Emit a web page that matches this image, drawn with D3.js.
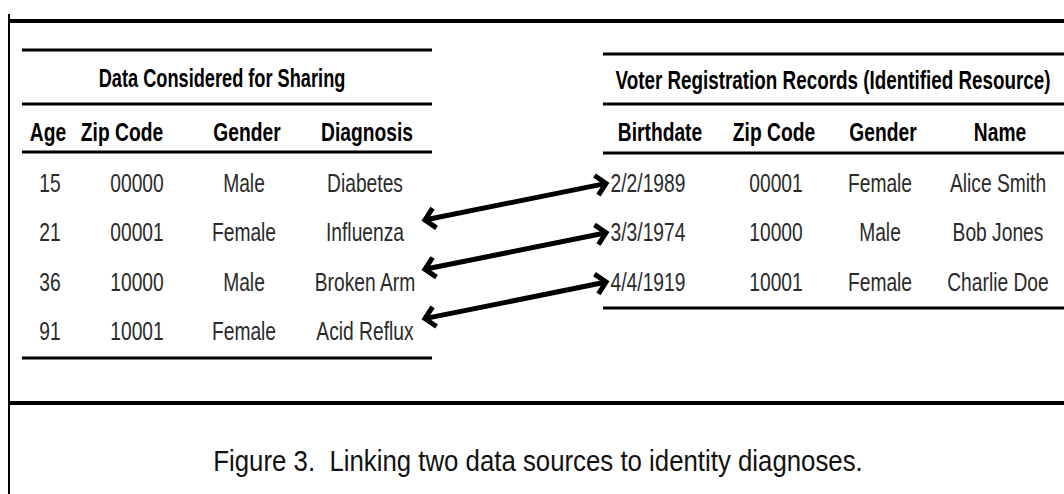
<!DOCTYPE html>
<html>
<head>
<meta charset="utf-8">
<script src="https://cdn.jsdelivr.net/npm/d3@7"></script>
<style>
  body { margin: 0; background: #fff; }
  text { font-family: "Liberation Sans", Arial, sans-serif; white-space: pre; }
</style>
</head>
<body>
<div id="fig"></div>
<script>
// left table: data considered for sharing
const leftTitle = "Data Considered for Sharing"
const leftCols = ["Age", "Zip Code", "Gender", "Diagnosis"]
const ages = ["15", "21", "36", "91"]
const leftZips = ["00000", "00001", "10000", "10001"]
const leftGenders = ["Male", "Female", "Male", "Female"]
const diagnoses = ["Diabetes", "Influenza", "Broken Arm", "Acid Reflux"]

// right table: voter registration
const rightTitle = "Voter Registration Records (Identified Resource)"
const rightCols = ["Birthdate", "Zip Code", "Gender", "Name"]
const birthdates = ["2/2/1989", "3/3/1974", "4/4/1919"]
const rightZips = ["00001", "10000", "10001"]
const rightGenders = ["Female", "Male", "Female"]
const names = ["Alice Smith", "Bob Jones", "Charlie Doe"]

// which diagnosis row links to which voter row
const links = [
  {from: "Influenza", to: "2/2/1989"},
  {from: "Broken Arm", to: "3/3/1974"},
  {from: "Acid Reflux", to: "4/4/1919"}
]

const caption = "Figure 3.  Linking two data sources to identity diagnoses."

const width = 1064, height = 494
const squeeze = 0.74   // the figure's text is tall and narrow

const svg = d3.select("#fig")
  .append("svg")
    .attr("width", width)
    .attr("height", height)

// row positions
const yRow = d3.scalePoint()
    .domain([0, 1, 2, 3])
    .range([183, 331])

// column centres
const xLeftHead = d3.scaleOrdinal().domain(leftCols).range([48, 122, 247, 367])
const xLeftVal = d3.scaleOrdinal().domain(leftCols).range([50, 137, 244, 365])
const xRightHead = d3.scaleOrdinal().domain(rightCols).range([660, 774, 883, 1000])
const xRightVal = d3.scaleOrdinal().domain(rightCols).range([648, 776, 880, 998])

const leftRows = ages.map((a, i) => [a, leftZips[i], leftGenders[i], diagnoses[i]])
const rightRows = birthdates.map((b, i) => [b, rightZips[i], rightGenders[i], names[i]])

// frame
const frame = svg.append("g").attr("stroke", "#000")
frame.append("line").attr("x1", 9).attr("x2", 9).attr("y1", 14).attr("y2", height).attr("stroke-width", 2)
frame.append("line").attr("x1", 8).attr("x2", width).attr("y1", 21).attr("y2", 21).attr("stroke-width", 4)
frame.append("line").attr("x1", 8).attr("x2", width).attr("y1", 403).attr("y2", 403).attr("stroke-width", 4)

// narrow text placed at x,y
const label = (sel, x, y, sx = squeeze) => sel
    .attr("transform", `translate(${x},${y}) scale(${sx},1)`)
    .attr("text-anchor", "middle")
    .attr("dominant-baseline", "central")
    .attr("font-size", 26)

function drawTable(opts) {
  const g = svg.append("g")
  g.selectAll("line")
    .data(opts.rules)
    .join("line")
      .attr("x1", opts.x0).attr("x2", opts.x1)
      .attr("y1", d => d).attr("y2", d => d)
      .attr("stroke", "#000")
      .attr("stroke-width", 3)

  g.append("text")
      .call(label, opts.titleX, opts.titleY, opts.titleSqueeze)
      .attr("font-weight", "bold")
      .text(opts.title)

  g.append("g")
    .selectAll("text")
    .data(opts.cols)
    .join("text")
      .each(function(d) { d3.select(this).call(label, opts.xHead(d), 132) })
      .attr("font-weight", "bold")
      .text(d => d)

  opts.rows.forEach((row, i) => {
    g.append("g")
      .selectAll("text")
      .data(row)
      .join("text")
        .each(function(d, j) { d3.select(this).call(label, opts.xVal(opts.cols[j]), yRow(i)) })
        .attr("fill", "#2a2a2a")
        .text(d => d)
  })
}

drawTable({
  x0: 22, x1: 432, rules: [50, 104, 152, 358],
  title: leftTitle, titleX: 222, titleY: 78, titleSqueeze: 0.7,
  cols: leftCols, xHead: xLeftHead, xVal: xLeftVal, rows: leftRows
})

drawTable({
  x0: 603, x1: width, rules: [54, 104, 153, 308],
  title: rightTitle, titleX: 833, titleY: 80, titleSqueeze: 0.725,
  cols: rightCols, xHead: xRightHead, xVal: xRightVal, rows: rightRows
})

// arrows
const arrowG = svg.append("g")
    .attr("stroke", "#000")
    .attr("stroke-width", 5)
    .attr("fill", "none")

links.forEach(l => {
  const x1 = 423, y1 = yRow(diagnoses.indexOf(l.from)) - 12
  const x2 = 608, y2 = yRow(birthdates.indexOf(l.to))
  const ang = Math.atan2(y2 - y1, x2 - x1)
  arrowG.append("line")
      .attr("x1", x1 + 3 * Math.cos(ang)).attr("y1", y1 + 3 * Math.sin(ang))
      .attr("x2", x2 - 3 * Math.cos(ang)).attr("y2", y2 - 3 * Math.sin(ang))
  const head = (tx, ty, a) => {
    const len = 14, spread = 0.8
    const p1 = [tx - len * Math.cos(a - spread), ty - len * Math.sin(a - spread)]
    const p2 = [tx - len * Math.cos(a + spread), ty - len * Math.sin(a + spread)]
    arrowG.append("path")
        .attr("stroke-linejoin", "miter")
        .attr("d", d3.line()([p1, [tx, ty], p2]))
  }
  head(x2 - 2 * Math.cos(ang), y2 - 2 * Math.sin(ang), ang)
  head(x1 + 2 * Math.cos(ang), y1 + 2 * Math.sin(ang), ang + Math.PI)
})

svg.append("text")
    .call(label, 538, 461, 0.86)
    .attr("font-size", 30)
    .attr("fill", "#111")
    .text(caption)
</script>
</body>
</html>
